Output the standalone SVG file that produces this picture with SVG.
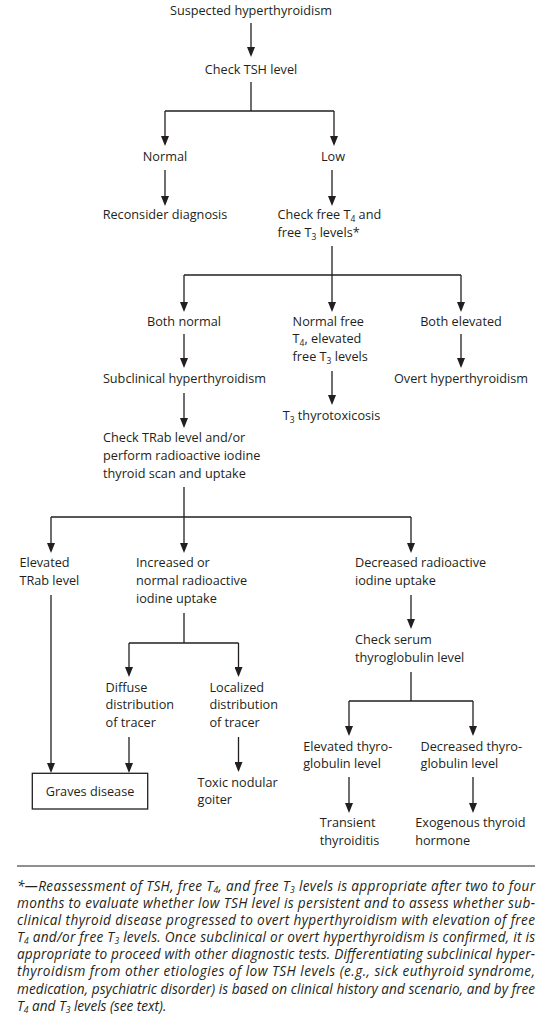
<svg xmlns="http://www.w3.org/2000/svg" width="554" height="1024" viewBox="0 0 554 1024">
<style>
.t{font-family:"Open Sans","Liberation Sans",sans-serif;font-size:12.7px;fill:#231f20}
.c{text-anchor:middle}
.s{font-size:8.5px}
.f{font-family:"Open Sans","Liberation Sans",sans-serif;font-style:italic;font-size:13.6px;fill:#231f20}
.fs{font-size:8.5px}
.ln{stroke:#231f20;stroke-width:1.3;fill:none}
.ar{stroke:#231f20;stroke-width:1.3;fill:none;marker-end:url(#ah)}
.box{fill:#fff;stroke:#231f20;stroke-width:1.3}
</style>
<defs>
<marker id="ah" viewBox="0 0 10 8" refX="8" refY="4" markerWidth="10" markerHeight="8" markerUnits="userSpaceOnUse" orient="auto">
<path d="M0,0 L10,4 L0,8 Z" fill="#231f20"/>
</marker>
</defs>
<rect width="554" height="1024" fill="#fff"/>
<g id="connectors">
<path class="ar" d="M251,23 V55"/>
<path class="ln" d="M251,82 V111 M165,111 H334"/>
<path class="ar" d="M165,111 V144"/>
<path class="ar" d="M334,111 V144"/>
<path class="ar" d="M165,170 V204"/>
<path class="ar" d="M332,170 V204"/>
<path class="ln" d="M332,246 V275 M184,275 H461"/>
<path class="ar" d="M184,275 V310"/>
<path class="ar" d="M332,275 V310"/>
<path class="ar" d="M461,275 V310"/>
<path class="ar" d="M184,334 V366"/>
<path class="ar" d="M461,334 V366"/>
<path class="ar" d="M332,371 V403"/>
<path class="ar" d="M184,393 V426"/>
<path class="ln" d="M184,487 V517 M51,517 H411"/>
<path class="ar" d="M51,517 V551"/>
<path class="ar" d="M184,517 V551"/>
<path class="ar" d="M411,517 V551"/>
<path class="ar" d="M51,595 V771"/>
<path class="ln" d="M184,613 V643 M129,643 H238.5"/>
<path class="ar" d="M129,643 V675"/>
<path class="ar" d="M238.5,643 V675"/>
<path class="ar" d="M411,595 V627"/>
<path class="ln" d="M411,672 V701 M349,701 H473"/>
<path class="ar" d="M349,701 V734"/>
<path class="ar" d="M473,701 V734"/>
<path class="ar" d="M129,737 V771"/>
<path class="ar" d="M238.5,737 V770"/>
<path class="ar" d="M349,777 V811"/>
<path class="ar" d="M473,777 V811"/>
</g>
<g id="n1"><text class="t c" x="251" y="15">Suspected hyperthyroidism</text></g>
<g id="n2"><text class="t c" x="251" y="73.5">Check TSH level</text></g>
<g id="n3"><text class="t c" x="165" y="161">Normal</text></g>
<g id="n4"><text class="t c" x="333" y="161">Low</text></g>
<g id="n5"><text class="t c" x="165" y="219">Reconsider diagnosis</text></g>
<g id="n6">
<text class="t" x="277.5" y="219">Check free T<tspan class="s" dy="3">4</tspan><tspan dy="-3"> and</tspan></text>
<text class="t" x="277.5" y="236.7">free T<tspan class="s" dy="3">3</tspan><tspan dy="-3"> levels*</tspan></text>
</g>
<g id="n7"><text class="t c" x="184" y="325.7">Both normal</text></g>
<g id="n8">
<text class="t" x="292.6" y="325.7">Normal free</text>
<text class="t" x="292.6" y="343.2">T<tspan class="s" dy="3">4</tspan><tspan dy="-3">, elevated</tspan></text>
<text class="t" x="292.6" y="360.7">free T<tspan class="s" dy="3">3</tspan><tspan dy="-3"> levels</tspan></text>
</g>
<g id="n9"><text class="t c" x="461" y="325.7">Both elevated</text></g>
<g id="n10"><text class="t c" x="184.5" y="383.4">Subclinical hyperthyroidism</text></g>
<g id="n11"><text class="t c" x="331.5" y="420">T<tspan class="s" dy="3">3</tspan><tspan dy="-3"> thyrotoxicosis</tspan></text></g>
<g id="n12"><text class="t c" x="461" y="383.4">Overt hyperthyroidism</text></g>
<g id="n13">
<text class="t" x="103" y="442.4">Check TRab level and/or</text>
<text class="t" x="103" y="460">perform radioactive iodine</text>
<text class="t" x="103" y="477.6">thyroid scan and uptake</text>
</g>
<g id="n14">
<text class="t" x="19.4" y="567.4">Elevated</text>
<text class="t" x="19.4" y="585">TRab level</text>
</g>
<g id="n15">
<text class="t" x="136" y="567.4">Increased or</text>
<text class="t" x="136" y="585">normal radioactive</text>
<text class="t" x="136" y="602.6">iodine uptake</text>
</g>
<g id="n16">
<text class="t" x="355" y="567.4">Decreased radioactive</text>
<text class="t" x="355" y="585">iodine uptake</text>
</g>
<g id="n17">
<text class="t" x="355" y="644">Check serum</text>
<text class="t" x="355" y="661.6">thyroglobulin level</text>
</g>
<g id="n18">
<text class="t" x="105.5" y="691.5">Diffuse</text>
<text class="t" x="105.5" y="709">distribution</text>
<text class="t" x="105.5" y="726.6">of tracer</text>
</g>
<g id="n19">
<text class="t" x="209.4" y="691.5">Localized</text>
<text class="t" x="209.4" y="709">distribution</text>
<text class="t" x="209.4" y="726.6">of tracer</text>
</g>
<g id="n20">
<text class="t" x="303.2" y="750.7">Elevated thyro-</text>
<text class="t" x="303.2" y="768.3">globulin level</text>
</g>
<g id="n21">
<text class="t" x="420.5" y="750.7">Decreased thyro-</text>
<text class="t" x="420.5" y="768.3">globulin level</text>
</g>
<g id="n22">
<rect class="box" x="32.3" y="773.3" width="115.4" height="35.7"/>
<text class="t c" x="90" y="796">Graves disease</text>
</g>
<g id="n23">
<text class="t" x="197.5" y="786.5">Toxic nodular</text>
<text class="t" x="197.5" y="804">goiter</text>
</g>
<g id="n24">
<text class="t" x="319.8" y="827.3">Transient</text>
<text class="t" x="319.8" y="845">thyroiditis</text>
</g>
<g id="n25">
<text class="t" x="415.2" y="827.3">Exogenous thyroid</text>
<text class="t" x="415.2" y="845">hormone</text>
</g>
<g id="footnote">
<path d="M17,866 H535" stroke="#231f20" stroke-width="1"/>
<text class="f" x="17" y="891" textLength="518" lengthAdjust="spacing">*—Reassessment of TSH, free T<tspan class="fs" dy="2">4</tspan><tspan dy="-2">, and free T</tspan><tspan class="fs" dy="2">3</tspan><tspan dy="-2"> levels is appropriate after two to four</tspan></text>
<text class="f" x="17" y="908.1" textLength="518" lengthAdjust="spacing">months to evaluate whether low TSH level is persistent and to assess whether sub-</text>
<text class="f" x="17" y="925.2" textLength="518" lengthAdjust="spacing">clinical thyroid disease progressed to overt hyperthyroidism with elevation of free</text>
<text class="f" x="17" y="942.2" textLength="518" lengthAdjust="spacing">T<tspan class="fs" dy="2">4</tspan><tspan dy="-2"> and/or free T</tspan><tspan class="fs" dy="2">3</tspan><tspan dy="-2"> levels. Once subclinical or overt hyperthyroidism is confirmed, it is</tspan></text>
<text class="f" x="17" y="959.3" textLength="518" lengthAdjust="spacing">appropriate to proceed with other diagnostic tests. Differentiating subclinical hyper-</text>
<text class="f" x="17" y="976.4" textLength="518" lengthAdjust="spacing">thyroidism from other etiologies of low TSH levels (e.g., sick euthyroid syndrome,</text>
<text class="f" x="17" y="993.5" textLength="518" lengthAdjust="spacing">medication, psychiatric disorder) is based on clinical history and scenario, and by free</text>
<text class="f" x="17" y="1010.6">T<tspan class="fs" dy="2">4</tspan><tspan dy="-2"> and T</tspan><tspan class="fs" dy="2">3</tspan><tspan dy="-2"> levels (see text).</tspan></text>
</g>
</svg>
